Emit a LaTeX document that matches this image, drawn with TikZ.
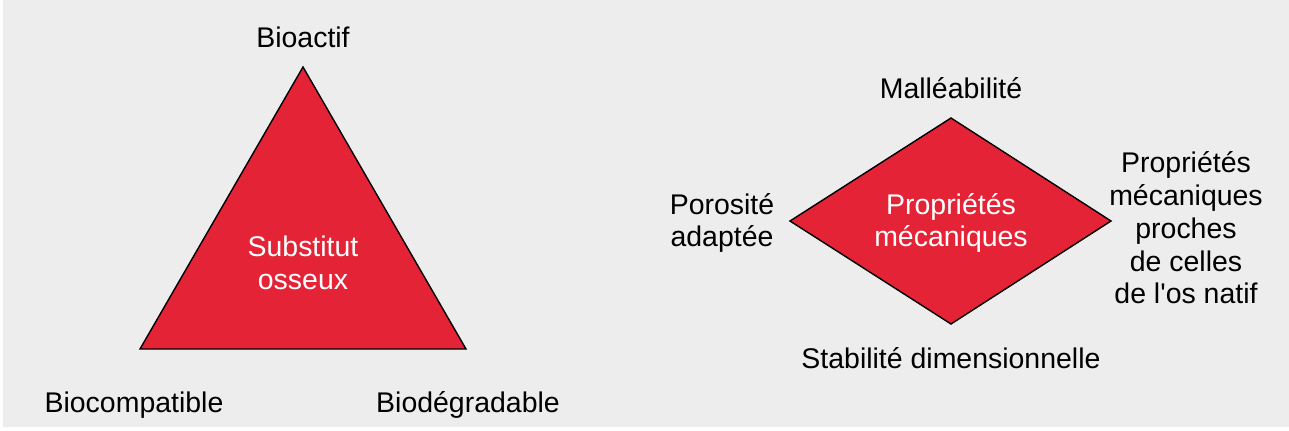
\documentclass[tikz,border=0pt]{standalone}
\usepackage{fontspec}
\setmainfont{Liberation Sans}
\usepackage{tikz}
\usetikzlibrary{positioning}
\definecolor{myred}{RGB}{228,35,54}
\definecolor{mybg}{RGB}{237,237,237}
\tikzset{
  redshape/.style={fill=myred, draw=black, line width=0.8pt, line join=miter},
  inlabel/.style={text=white, align=center, inner sep=0pt,
    font=\fontsize{16.2}{18.6}\selectfont},
  outlabel/.style={text=black, align=center, inner sep=0pt,
    font=\fontsize{16.2}{18.6}\selectfont}
}

\begin{document}
\begin{tikzpicture}[x=0.02cm, y=-0.02cm]
  \useasboundingbox (0,0) rectangle (1289,430);
  \fill[mybg] (3,0) rectangle (1289,427);

  % Triangle
  \coordinate (ta) at (303,67);
  \coordinate (tl) at (140,349);
  \coordinate (tr) at (466,349);
  \draw[redshape] (ta) -- (tl) -- (tr) -- cycle;
  \node[inlabel] (subst) at (303,263) {Substitut\\osseux};

  % Triangle labels
  \node[outlabel] (bioactif) at (303,37) {Bioactif};
  \node[outlabel] (biocomp) at (134,405) {Biocompatible};
  \node[outlabel] (biodeg) at (468,405) {Biodégradable};

  % Diamond
  \coordinate (dt) at (951,118);
  \coordinate (dl) at (790,221);
  \coordinate (db) at (951,324);
  \coordinate (dr) at (1111,221);
  \draw[redshape] (dt) -- (dr) -- (db) -- (dl) -- cycle;
  \node[inlabel] (propmeca) at (951,223) {Propriétés\\mécaniques};

  % Diamond labels
  \node[outlabel] (malle) at (951,88) {Malléabilité};
  \node[outlabel] (stab) at (951,358) {Stabilité dimensionnelle};
  \node[outlabel] (poro) at (722,223) {Porosité\\adaptée};
  \node[outlabel] (proches) at (1186,228) {Propriétés\\mécaniques\\proches\\de celles\\de l\textquotesingle os natif};
\end{tikzpicture}
\end{document}
